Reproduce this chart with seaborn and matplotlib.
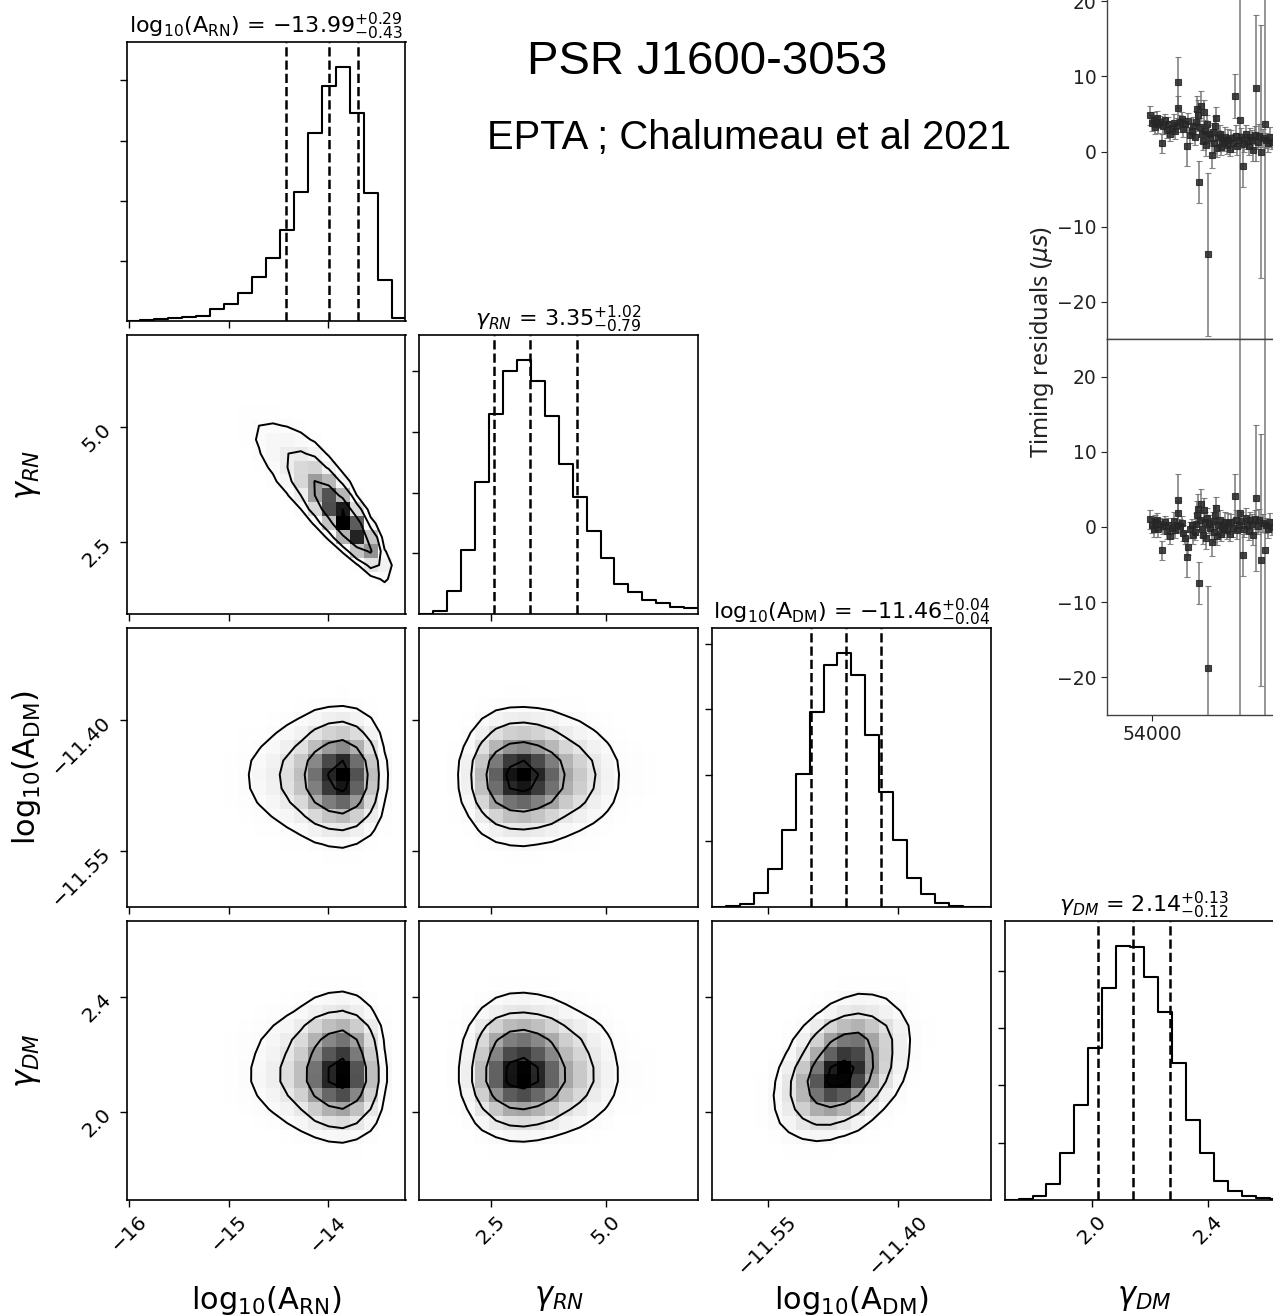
import numpy as np
import matplotlib
matplotlib.use("Agg")
import matplotlib.pyplot as plt
from matplotlib.colors import ListedColormap
from matplotlib.ticker import MaxNLocator, FixedLocator, FormatStrFormatter
import pandas as pd
import seaborn as sns
from statistics import NormalDist

# ---------------------------------------------------------------- posterior
param_labels = [
    r"log$_{10}$(A$_{\rm RN}$)",
    r"$\gamma_{RN}$",
    r"log$_{10}$(A$_{\rm DM}$)",
    r"$\gamma_{DM}$",
]

# sampled range of every parameter (20 histogram bins across each)
arn_range = (-16.03, -13.22)
grn_range = (0.93, 7.00)
adm_range = (-11.614, -11.294)
gdm_range = (1.697, 2.662)

# marginal posterior histograms (samples per bin)
arn_counts = [3, 8, 14, 22, 31, 45, 98, 140, 229, 363, 525, 757, 1070, 1567,
              1950, 2109, 1732, 1067, 344, 28]
grn_counts = [2, 22, 150, 422, 869, 1316, 1602, 1672, 1536, 1302, 990, 770,
              550, 370, 198, 143, 95, 70, 48, 40]
adm_counts = [3, 8, 20, 110, 288, 582, 1008, 1482, 1839, 1926, 1762, 1308,
              870, 505, 217, 97, 33, 8, 3, 0]
gdm_counts = [2, 7, 30, 112, 327, 661, 1063, 1479, 1771, 1764, 1556, 1311,
              958, 561, 327, 135, 61, 30, 14, 7]

# median and 68% credible interval (median, minus, plus)
arn_q = (-13.99, 0.43, 0.29)
grn_q = (3.35, 0.79, 1.02)
adm_q = (-11.46, 0.04, 0.04)
gdm_q = (2.14, 0.12, 0.13)

# rank correlation between pairs of parameters
pair_corr = {(0, 1): -0.88, (0, 2): 0.0, (1, 2): 0.0,
             (0, 3): 0.0, (1, 3): 0.0, (2, 3): 0.35}

# tick positions on each parameter axis
arn_ticks = [-16, -15, -14]
grn_ticks = [2.5, 5.0]
adm_ticks = [-11.55, -11.40]
gdm_ticks = [2.0, 2.4]

# ---------------------------------------------------------------- timing residuals
mjd = [53978, 54000, 54022, 54033, 54056, 54067, 54089, 54111, 54122, 54144,
       54167, 54178, 54200, 54222, 54244, 54256, 54278, 54289, 54289, 54311,
       54333, 54344, 54367, 54389, 54400, 54422, 54444, 54456, 54478, 54489,
       54500, 54511, 54522, 54533, 54544, 54556, 54567, 54578, 54589, 54600,
       54611, 54622, 54633, 54644, 54667, 54678, 54689, 54700, 54711, 54722,
       54733, 54756, 54767, 54778, 54800, 54811, 54833, 54844, 54867, 54878,
       54900, 54922, 54933, 54944, 54967, 54978, 54989, 55011, 55022, 55044,
       55056, 55078, 55089, 55111, 55122, 55144, 55156, 55178, 55189, 55211,
       55233, 55256, 55267, 55289, 55311, 55333]
res_pre = [4.8, 3.8, 4.2, 3.3, 4.5, 3.6, 3.9, 1.1, 3.4, 4.2,
           2.9, 3.7, 2.4, 3.1, 3.8, 2.7, 3.5, 9.2, 5.8, 3.9,
           4.3, 3.0, 3.6, 0.7, 4.0, 2.2, 2.8, 3.4, 2.0, 3.9,
           5.6, 4.8, -4.1, 3.2, 6.1, 2.3, 1.4, 5.2, 2.8, 0.9,
           3.6, -13.7, 2.4, 1.8, -0.4, 2.6, 1.2, 3.4, 4.4, 0.5,
           1.9, 2.3, 0.6, 1.5, 1.1, 2.0, 0.9, 1.6, 0.4, 1.8,
           1.2, 7.4, 2.1, 0.8, 1.5, 4.2, 1.9, -1.9, 1.0, 2.3,
           1.4, 0.7, 2.0, 1.6, 0.2, 2.2, 8.5, 1.3, 2.1, 0.0,
           1.8, 3.7, 1.5, 1.1, 1.9, 1.3]
res_post = [1.0, 0.2, -0.3, 0.6, 0.9, -0.2, 0.4, -3.1, 0.1, 0.7,
            -0.5, 0.3, -1.2, -0.1, 0.8, -0.4, 0.2, 3.6, 1.8, 0.1,
            0.5, -0.8, -1.5, -4.0, -2.6, -0.3, 0.2, -1.0, -0.6, 0.4,
            1.6, 2.4, -7.4, 0.9, 3.0, -0.2, -1.1, 2.2, 0.6, -1.4,
            1.2, -18.7, 0.4, -0.1, -2.0, 0.8, -0.6, 1.6, 2.5, -1.2,
            0.3, 0.9, -0.9, 0.0, -0.3, 0.7, -0.4, 0.5, -0.9, 0.6,
            -0.1, 4.1, 0.9, -0.4, 0.3, 1.8, 0.8, -3.7, -0.2, 1.2,
            0.2, -0.5, 0.9, 0.4, -1.0, 1.0, 3.8, 0.1, 0.9, -4.4,
            0.5, -3.0, 0.2, -0.2, 0.6, 0.0]
res_err = [1.2, 1.0, 1.0, 1.0, 0.9, 1.1, 0.8, 1.3, 1.0, 0.8,
           1.1, 0.9, 1.0, 0.8, 1.2, 1.0, 0.9, 3.4, 1.6, 0.9,
           1.0, 1.0, 0.8, 2.6, 1.1, 1.0, 0.9, 1.2, 1.1, 1.5,
           1.8, 2.0, 2.8, 1.3, 2.0, 1.1, 1.2, 1.6, 1.4, 1.5,
           1.3, 10.9, 1.2, 1.0, 1.8, 1.2, 1.4, 1.3, 1.5, 1.2,
           1.0, 1.3, 1.0, 1.1, 1.0, 1.3, 1.2, 1.4, 1.0, 1.1,
           1.2, 2.9, 1.4, 1.2, 1.0, 80.0, 1.2, 2.8, 1.1, 1.3,
           1.0, 1.2, 1.1, 1.3, 1.4, 1.2, 9.7, 1.0, 1.5, 16.8,
           1.2, 80.0, 1.0, 1.2, 1.3, 1.0]

# ---------------------------------------------------------------- helpers
W_PX, H_PX = 1273, 1315
fig = plt.figure(figsize=(W_PX / 100, H_PX / 100), dpi=100)
plt.rcParams["mathtext.fontset"] = "dejavusans"


def px_axes(left, top, width, height):
    return fig.add_axes([left / W_PX, 1 - (top + height) / H_PX,
                         width / W_PX, height / H_PX])


ranges = [arn_range, grn_range, adm_range, gdm_range]
counts = [np.asarray(c, float) for c in (arn_counts, grn_counts, adm_counts, gdm_counts)]
quants = [arn_q, grn_q, adm_q, gdm_q]
ticks = [arn_ticks, grn_ticks, adm_ticks, gdm_ticks]
edges = [np.linspace(r[0], r[1], len(c) + 1) for r, c in zip(ranges, counts)]
centers = [0.5 * (e[1:] + e[:-1]) for e in edges]


def normal_scores(c):
    cdf = (np.cumsum(c) - 0.5 * c) / c.sum()
    cdf = np.clip(cdf, 1e-4, 1 - 1e-4)
    nd = NormalDist()
    return np.array([nd.inv_cdf(u) for u in cdf])


def joint_hist(cx, cy, rho):
    zx, zy = normal_scores(cx), normal_scores(cy)
    ZX, ZY = np.meshgrid(zx, zy, indexing="ij")
    cop = np.exp(-(rho ** 2 * (ZX ** 2 + ZY ** 2) - 2 * rho * ZX * ZY)
                 / (2 * (1 - rho ** 2))) / np.sqrt(1 - rho ** 2)
    return np.outer(cx, cy) * cop


def sigma_levels(Hm):
    levels = 1.0 - np.exp(-0.5 * np.arange(0.5, 2.1, 0.5) ** 2)
    flat = np.sort(Hm.ravel())[::-1]
    cum = np.cumsum(flat)
    cum /= cum[-1]
    V = np.empty(len(levels))
    for k, lv in enumerate(levels):
        sel = flat[cum <= lv]
        V[k] = sel[-1] if len(sel) else flat[0]
    V.sort()
    m = np.diff(V) == 0
    while np.any(m):
        V[np.where(m)[0][0]] *= 1.0 - 1e-4
        m = np.diff(V) == 0
    V.sort()
    return V


def padded_grid(Hm, xe, ye):
    X1 = 0.5 * (xe[1:] + xe[:-1])
    Y1 = 0.5 * (ye[1:] + ye[:-1])
    H2 = Hm.min() + np.zeros((Hm.shape[0] + 4, Hm.shape[1] + 4))
    H2[2:-2, 2:-2] = Hm
    H2[2:-2, 1] = Hm[:, 0]
    H2[2:-2, -2] = Hm[:, -1]
    H2[1, 2:-2] = Hm[0]
    H2[-2, 2:-2] = Hm[-1]
    H2[1, 1] = Hm[0, 0]
    H2[1, -2] = Hm[0, -1]
    H2[-2, 1] = Hm[-1, 0]
    H2[-2, -2] = Hm[-1, -1]
    X2 = np.concatenate([X1[0] + np.array([-2, -1]) * np.diff(X1[:2]), X1,
                         X1[-1] + np.array([1, 2]) * np.diff(X1[-2:])])
    Y2 = np.concatenate([Y1[0] + np.array([-2, -1]) * np.diff(Y1[:2]), Y1,
                         Y1[-1] + np.array([1, 2]) * np.diff(Y1[-2:])])
    return X2, Y2, H2


t = np.linspace(0, 1, 256)
density_cmap = ListedColormap(np.column_stack([1 - t ** 2] * 3))

TICK_FS = 14.5
LABEL_FS = 22
TITLE_FS = 16
LW = 1.5

col_left = [126.5 + k * 292.7 for k in range(4)]
row_top = [42 + k * 293 for k in range(4)]
SIZE = 279

for i in range(4):
    for j in range(i + 1):
        ax = px_axes(col_left[j], row_top[i], SIZE, SIZE)
        for s in ax.spines.values():
            s.set_linewidth(1.2)
        if i == j:
            dfh = pd.DataFrame({"x": centers[i], "w": counts[i]})
            sns.histplot(data=dfh, x="x", weights="w",
                         bins=list(edges[i]),
                         element="step", fill=False, color="k",
                         linewidth=LW, ax=ax)
            med, lo, hi = quants[i]
            for qv in (med - lo, med, med + hi):
                ax.axvline(qv, color="k", ls="--", lw=1.8)
            ax.set_xlim(*ranges[i])
            ax.set_ylim(0, 1.1 * counts[i].max())
            ax.yaxis.set_major_locator(MaxNLocator(5, prune="lower"))
            ax.set_yticklabels([])
            ax.set_ylabel("")
            ttl = "{0} = ${1:.2f}_{{-{2:.2f}}}^{{+{3:.2f}}}$".format(
                param_labels[i], med, lo, hi)
            ax.set_title(ttl, fontsize=TITLE_FS)
        else:
            Hm = joint_hist(counts[j], counts[i], pair_corr[(j, i)])
            XX, YY = np.meshgrid(centers[j], centers[i], indexing="ij")
            df = pd.DataFrame({"x": XX.ravel(), "y": YY.ravel(), "w": Hm.ravel()})
            sns.histplot(data=df, x="x", y="y", weights="w",
                         bins=(list(edges[j]), list(edges[i])),
                         cmap=density_cmap, vmin=0, vmax=Hm.max(),
                         ax=ax, cbar=False)
            V = sigma_levels(Hm)
            X2, Y2, H2 = padded_grid(Hm, edges[j], edges[i])
            ax.contour(X2, Y2, H2.T, V, colors="k", linewidths=1.4)
            ax.set_xlim(*ranges[j])
            ax.set_ylim(*ranges[i])
            ax.yaxis.set_major_locator(FixedLocator(ticks[i]))
            if j == 0:
                ax.set_ylabel(param_labels[i], fontsize=LABEL_FS)
                ax.yaxis.set_label_coords(-0.3, 0.5)
            else:
                ax.set_yticklabels([])
                ax.set_ylabel("")
        ax.xaxis.set_major_locator(FixedLocator(ticks[j]))
        ax.tick_params(labelsize=TICK_FS, length=5, width=1)
        if i == 3:
            for lab in ax.get_xticklabels():
                lab.set_rotation(45)
            ax.set_xlabel(param_labels[j], fontsize=LABEL_FS)
            ax.xaxis.set_label_coords(0.5, -0.3)
        else:
            ax.set_xticklabels([])
            ax.set_xlabel("")
        if i != j and j == 0:
            for lab in ax.get_yticklabels():
                lab.set_rotation(45)

# ---------------------------------------------------------------- residual panels
res_top = px_axes(1107, -36, 520, 375)
res_bot = px_axes(1107, 339, 520, 376)
mjd_arr = np.asarray(mjd, float)
for ax, vals in ((res_top, res_pre), (res_bot, res_post)):
    ax.errorbar(mjd_arr, vals, yerr=res_err, fmt="s", ms=4.5, color="#262626",
                ecolor="#6e6e6e", elinewidth=1.2, capsize=2.5, alpha=0.85,
                mew=0.8)
    ax.set_xlim(53500, 53500 + 520 / 0.09)
    ax.set_ylim(-25, 25)
    ax.yaxis.set_major_locator(FixedLocator([-20, -10, 0, 10, 20]))
    ax.xaxis.set_major_locator(FixedLocator([54000]))
    ax.tick_params(labelsize=13.5, colors="#222222", length=4, width=0.8)
    for s in ax.spines.values():
        s.set_color("#444444")
        s.set_linewidth(1.0)
res_top.tick_params(axis="x", length=0, labelbottom=False)
res_bot.xaxis.set_major_formatter(FormatStrFormatter("%d"))

fig.text(1042 / W_PX, 1 - 342 / H_PX, r"Timing residuals ($\mu s$)",
         rotation=90, ha="center", va="center", fontsize=17,
         family="Noto Sans", color="#222222")

# ---------------------------------------------------------------- headings
fig.text(527 / W_PX, 1 - 62 / H_PX, "PSR J1600-3053", fontsize=34,
         family="Liberation Sans", ha="left", va="center")
fig.text(487 / W_PX, 1 - 138 / H_PX, "EPTA ; Chalumeau et al 2021",
         fontsize=28.8, family="Liberation Sans", ha="left", va="center")

fig.savefig("out.png", dpi=100)
